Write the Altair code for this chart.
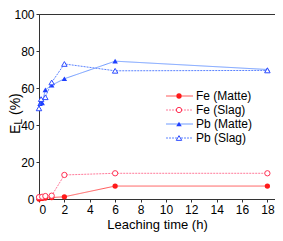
import altair as alt
import pandas as pd

# ---- data ----
fe_matte_t = [0, 0.25, 0.5, 1, 2, 6, 18]
fe_matte_v = [0.0, 0.3, 0.5, 0.8, 1.2, 7.0, 7.0]

fe_slag_t = [0, 0.25, 0.5, 1, 2, 6, 18]
fe_slag_v = [1.0, 1.2, 1.6, 1.8, 13.0, 13.9, 13.9]

pb_matte_t = [0.083, 0.167, 0.25, 0.5, 1, 2, 6, 18]
pb_matte_v = [51.5, 52.5, 52.0, 59.0, 61.5, 65.0, 74.5, 70.0]

pb_slag_t = [0, 0.167, 0.5, 1, 2, 6, 18]
pb_slag_v = [49.0, 54.0, 55.0, 63.0, 73.0, 69.3, 69.5]

series_names = ["Fe (Matte)", "Fe (Slag)", "Pb (Matte)", "Pb (Slag)"]
x_ticks = [0, 2, 4, 6, 8, 10, 12, 14, 16, 18]
y_ticks = [0, 20, 40, 60, 80, 100]

FONT = "Liberation Sans"

styles = {
    "Fe (Matte)": dict(line="#ff5a5a", mark="#ff1a1a", dash=[1, 0], shape="circle", filled=True, size=28),
    "Fe (Slag)": dict(line="#ff7a9a", mark="#ff3355", dash=[2, 1], shape="circle", filled=False, size=28),
    "Pb (Matte)": dict(line="#6f9bff", mark="#1f3fff", dash=[1, 0], shape="triangle-up", filled=True, size=30),
    "Pb (Slag)": dict(line="#5a82ff", mark="#2e4cff", dash=[2, 1], shape="triangle-up", filled=False, size=30),
}
data = {
    "Fe (Matte)": (fe_matte_t, fe_matte_v),
    "Fe (Slag)": (fe_slag_t, fe_slag_v),
    "Pb (Matte)": (pb_matte_t, pb_matte_v),
    "Pb (Slag)": (pb_slag_t, pb_slag_v),
}

X = alt.X("t:Q", scale=alt.Scale(domain=[0, 18.6], nice=False),
          axis=alt.Axis(values=x_ticks, title="Leaching time (h)", grid=False))
Y = alt.Y("v:Q", scale=alt.Scale(domain=[0, 100], nice=False),
          axis=alt.Axis(values=y_ticks, title=None, grid=False))

layers = []
for name in series_names:
    t, v = data[name]
    df = pd.DataFrame({"t": t, "v": v})
    s = styles[name]
    layers.append(alt.Chart(df).mark_line(color=s["line"], strokeWidth=1, strokeDash=s["dash"]).encode(x=X, y=Y))
    if s["filled"]:
        pm = alt.Chart(df).mark_point(shape=s["shape"], filled=True, color=s["mark"], size=s["size"], opacity=1)
    else:
        pm = alt.Chart(df).mark_point(shape=s["shape"], filled=True, fill="white", stroke=s["mark"],
                                      strokeWidth=1, size=s["size"], opacity=1)
    layers.append(pm.encode(x=X, y=Y))

# manual legend
dummy = pd.DataFrame({"a": [0]})
for i, name in enumerate(series_names):
    s = styles[name]
    yp = 82 + 14 * i
    layers.append(alt.Chart(dummy).mark_rule(color=s["line"], strokeWidth=1, strokeDash=s["dash"]).encode(
        x=alt.value(127), x2=alt.value(154), y=alt.value(yp)))
    if s["filled"]:
        pm = alt.Chart(dummy).mark_point(shape=s["shape"], filled=True, color=s["mark"], size=s["size"], opacity=1)
    else:
        pm = alt.Chart(dummy).mark_point(shape=s["shape"], filled=True, fill="white", stroke=s["mark"],
                                         strokeWidth=1, size=s["size"], opacity=1)
    layers.append(pm.encode(x=alt.value(140), y=alt.value(yp)))
    layers.append(alt.Chart(dummy).mark_text(align="left", baseline="middle", fontSize=12, font=FONT,
                                             color="black").encode(
        x=alt.value(157), y=alt.value(yp), text=alt.value(name)))

# y-axis title with subscript (E_L (%))
layers.append(alt.Chart(dummy).mark_text(align="left", baseline="middle", angle=270, fontSize=14, font=FONT,
                                         color="black").encode(x=alt.value(-23), y=alt.value(120), text=alt.value("E")))
layers.append(alt.Chart(dummy).mark_text(align="left", baseline="middle", angle=270, fontSize=10, font=FONT,
                                         color="black").encode(x=alt.value(-20), y=alt.value(110.5), text=alt.value("L")))
layers.append(alt.Chart(dummy).mark_text(align="left", baseline="middle", angle=270, fontSize=14, font=FONT,
                                         color="black").encode(x=alt.value(-23), y=alt.value(101), text=alt.value("(%)")))

chart = alt.layer(*layers).properties(
    width=236, height=185,
    autosize=alt.AutoSizeParams(type="none"),
    padding={"left": 31, "top": 6, "right": 0, "bottom": 34},
).configure_view(stroke="#333333", strokeWidth=1).configure_axis(
    domainColor="#333333", tickColor="#333333", tickSize=3, labelPadding=2,
    labelFont=FONT, labelFontSize=12, labelColor="black",
    titleFont=FONT, titleFontSize=13, titleFontWeight="normal", titleColor="black", titlePadding=3,
)

chart.save("out.html", embed_options={"renderer": "svg", "actions": False})
